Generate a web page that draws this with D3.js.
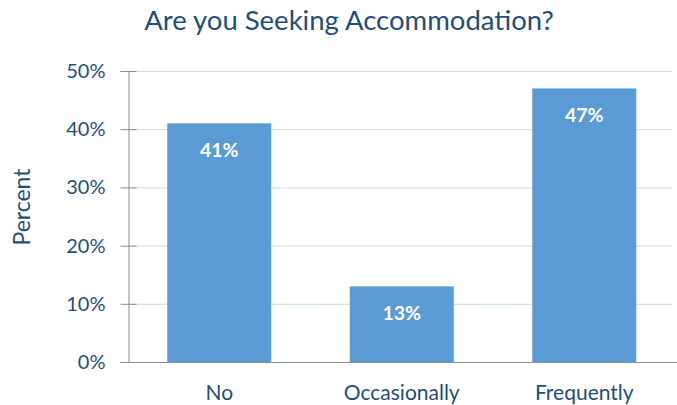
<!DOCTYPE html>
<html>
<head>
<meta charset="utf-8">
<script src="https://cdn.jsdelivr.net/npm/d3@7"></script>
<style>
  html, body { margin: 0; padding: 0; background: #fff; }
  svg text { font-family: "Lato", "Open Sans", sans-serif; }
</style>
</head>
<body>
<svg id="chart" width="677" height="405"></svg>
<script>
const categories = ["No", "Occasionally", "Frequently"];
const values = [41, 13, 47];
const yTicks = [0, 10, 20, 30, 40, 50];
const titleText = "Are you Seeking Accommodation?";
const yLabel = "Percent";

const svg = d3.select("#chart");
const margin = { top: 71, right: 1.5, bottom: 43, left: 128 };
const W = 677, H = 405;
const textColor = "#1F4E79";

const x = d3.scaleBand()
  .domain(categories)
  .range([margin.left, W - margin.right])
  .paddingInner(0.43)
  .paddingOuter(0.215);

const y = d3.scaleLinear()
  .domain([0, 50])
  .range([H - margin.bottom, margin.top]);

// gridlines
svg.append("g")
  .selectAll("line")
  .data(yTicks.filter(d => d > 0))
  .join("line")
  .attr("x1", margin.left)
  .attr("x2", 672)
  .attr("y1", d => y(d) + 0.5)
  .attr("y2", d => y(d) + 0.5)
  .attr("stroke", "#C5DCF0")
  .attr("stroke-width", 1);

// bars
svg.append("g")
  .selectAll("rect")
  .data(values)
  .join("rect")
  .attr("x", (d, i) => x(categories[i]))
  .attr("y", d => y(d))
  .attr("width", x.bandwidth())
  .attr("height", d => y(0) - y(d))
  .attr("fill", "#5B9BD5");

// value labels
svg.append("g")
  .selectAll("text")
  .data(values)
  .join("text")
  .attr("x", (d, i) => x(categories[i]) + x.bandwidth() / 2)
  .attr("y", d => y(d) + 34)
  .attr("text-anchor", "middle")
  .attr("fill", "#fff")
  .attr("font-weight", "bold")
  .attr("font-size", 19.5)
  .text(d => d + "%");

// y axis
const yAxis = d3.axisLeft(y)
  .tickValues(yTicks)
  .tickFormat(d => d + "%")
  .tickSize(8)
  .tickPadding(14);
const gy = svg.append("g")
  .attr("transform", `translate(${margin.left + 0.5},0)`)
  .call(yAxis);
gy.select(".domain").attr("stroke", "#868E96");
gy.selectAll(".tick line").attr("stroke", "#868E96").attr("x2", -8).attr("x1", 8);
gy.selectAll(".tick text")
  .attr("fill", textColor)
  .attr("font-size", 20)
  .attr("x", -23);

// x axis baseline
svg.append("line")
  .attr("x1", margin.left - 8)
  .attr("x2", W)
  .attr("y1", y(0) + 0.5)
  .attr("y2", y(0) + 0.5)
  .attr("stroke", "#868E96");

// x labels
svg.append("g")
  .selectAll("text")
  .data(categories)
  .join("text")
  .attr("x", d => x(d) + x.bandwidth() / 2)
  .attr("y", 400)
  .attr("text-anchor", "middle")
  .attr("fill", textColor)
  .attr("font-size", 21)
  .text(d => d);

// y axis title
svg.append("text")
  .attr("transform", `translate(30,207) rotate(-90)`)
  .attr("text-anchor", "middle")
  .attr("fill", textColor)
  .attr("font-size", 23)
  .text(yLabel);

// chart title
svg.append("text")
  .attr("x", 349)
  .attr("y", 30)
  .attr("text-anchor", "middle")
  .attr("fill", textColor)
  .attr("font-size", 27.5)
  .text(titleText);
</script>
</body>
</html>
